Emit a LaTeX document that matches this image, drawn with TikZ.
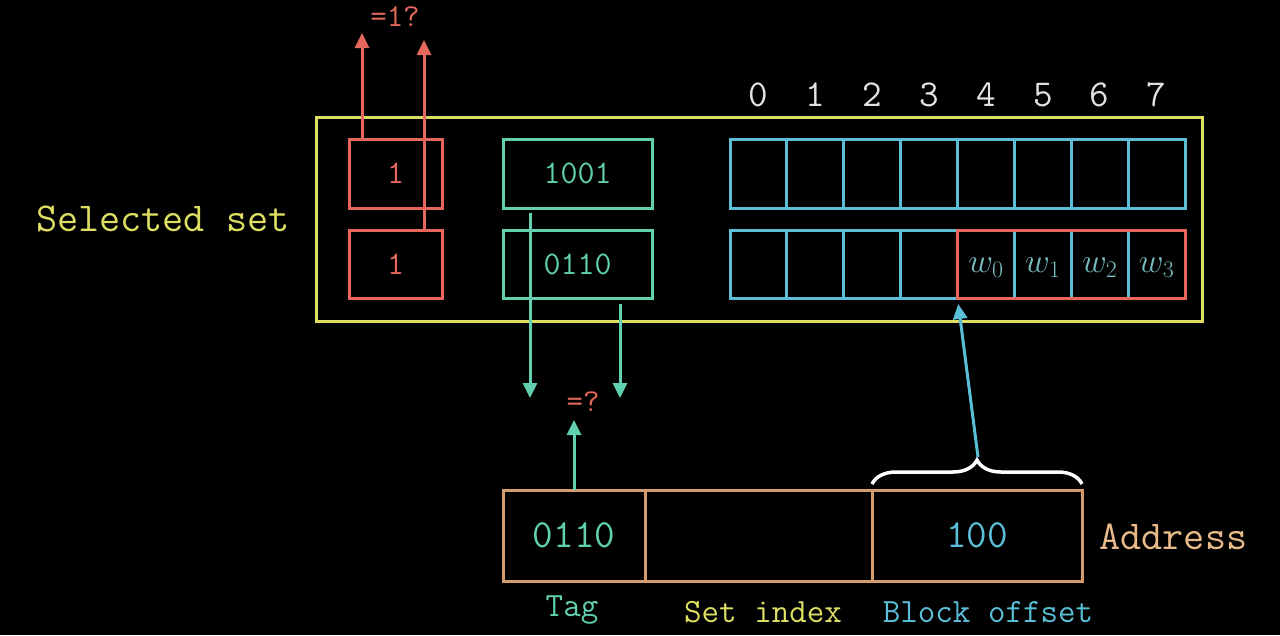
\RequirePackage{fix-cm}
\documentclass[tikz,border=0pt]{standalone}
\usetikzlibrary{arrows.meta,decorations.pathreplacing}
\definecolor{cyel}{RGB}{222,222,98}
\definecolor{cred}{RGB}{230,104,92}
\definecolor{cteal}{RGB}{96,208,176}
\definecolor{cblue}{RGB}{90,190,215}
\definecolor{cwv}{RGB}{120,190,195}
\definecolor{corange}{RGB}{212,156,108}
\definecolor{corangetxt}{RGB}{232,186,138}
\definecolor{cidx}{RGB}{225,225,225}
\newcommand{\fsz}[1]{\fontsize{#1}{#1}\selectfont}
\begin{document}
\begin{tikzpicture}[x=1pt,y=-1pt,line width=3pt,
  box/.style={draw,rectangle,inner sep=0pt,outer sep=0pt},
  arr/.style={-{Triangle[length=15pt,width=14pt]}},
  txt/.style={inner sep=0pt,font=\ttfamily\fsz{#1}}]
\fill[black] (0,0) rectangle (1280,635);
\useasboundingbox (0,0) rectangle (1280,635);

% selected set frame
\node[box,draw=cyel,minimum width=886pt,minimum height=204pt] (frame) at (759,219) {};
\node[txt=41,text=cyel,anchor=east] (sel) at (291,219) {Selected set};

% valid bits
\node[box,draw=cred,minimum width=93pt,minimum height=69pt,txt=33,text=cred] (v1) at (395.5,173.5) {1};
\node[box,draw=cred,minimum width=93pt,minimum height=68pt,txt=33,text=cred] (v2) at (395.5,264) {1};

% tags
\node[box,draw=cteal,minimum width=149pt,minimum height=69pt,txt=33,text=cteal] (t1) at (577.5,173.5) {1001};
\node[box,draw=cteal,minimum width=149pt,minimum height=68pt,txt=33,text=cteal] (t2) at (577.5,264) {0110};

% data cells
\foreach \i in {0,...,7}{
  \node[box,draw=cblue,minimum width=56.875pt,minimum height=69pt] (ca\i) at ({730+56.875*(\i+0.5)},173.5) {};
  \node[box,draw=cblue,minimum width=56.875pt,minimum height=68pt] (cb\i) at ({730+56.875*(\i+0.5)},264) {};
  \node[txt=38,text=cidx] (ix\i) at ({730+56.875*(\i+0.5)},95) {\i};
}
\draw[cred] (cb4.north west) rectangle (cb7.south east);
\foreach \i/\j in {4/0,5/1,6/2,7/3}
  \node[inner sep=0pt,text=cwv,font=\fsz{34}] (w\j) at ([yshift=-4pt]cb\i.center) {$w_{\j}$};

% valid-bit check arrows
\coordinate (r1) at (362,33);
\coordinate (r2) at (424,40);
\draw[cred,arr] (v1.north -| r1) -- (r1);
\draw[cred,arr] (v2.north -| r2) -- (r2);
\node[txt=32,text=cred] (eq1) at (395,17) {=1?};

% tag compare arrows
\coordinate (d1s) at (530,213);
\coordinate (d1e) at (530,398);
\coordinate (d2s) at (620,304);
\coordinate (d2e) at (620,398);
\draw[cteal,arr] (d1s) -- (d1e);
\draw[cteal,arr] (d2s) -- (d2e);
\node[txt=32,text=cred] (eq) at (583,402) {=?};

% address
\node[box,draw=corange,minimum width=142pt,minimum height=91pt,txt=40,text=cteal] (atag) at (574,535.5) {0110};
\node[box,draw=corange,minimum width=227pt,minimum height=91pt] (aset) at (758.5,535.5) {};
\node[box,draw=corange,minimum width=210pt,minimum height=91pt,txt=40,text=cblue] (aoff) at (977,535.5) {100};
\node[txt=41,text=corangetxt,anchor=west] (addr) at (1098,537) {Address};

\coordinate (u1) at (574,420);
\draw[cteal,arr] (atag.north) -- (u1);

% labels
\node[txt=34,text=cteal] (ltag) at (572,610) {Tag};
\node[txt=34,text=cyel] (lset) at (763,612) {Set index};
\node[txt=34,text=cblue] (loff) at (988,612) {Block offset};

% brace and offset arrow
\draw[white,line width=3.5pt,decorate,decoration={brace,amplitude=24pt,raise=6pt}] (aoff.north west) -- (aoff.north east);
\coordinate (bt) at (978,457);
\draw[cblue,arr,shorten >=6pt] (bt) -- (cb4.south west);
\end{tikzpicture}
\end{document}
